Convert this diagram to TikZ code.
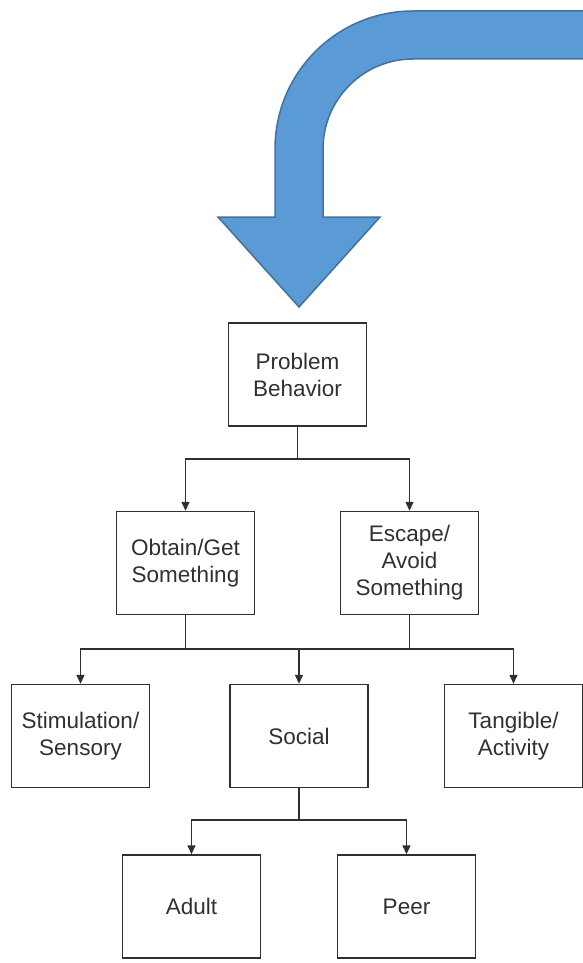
\documentclass[tikz,border=0pt]{standalone}
\usepackage{fontspec}
\setmainfont{Liberation Sans}
\usetikzlibrary{arrows.meta}
\definecolor{arrowfill}{HTML}{5B9BD5}
\definecolor{arrowline}{HTML}{41719C}
\definecolor{ink}{HTML}{303030}
\tikzset{
  box/.style={draw=ink, line width=1.4pt, text=ink, minimum width=138pt, minimum height=103pt,
    align=center, inner sep=0pt, font=\fontsize{22.5}{27}\selectfont},
  conn/.style={draw=ink, line width=1.4pt, -{Triangle[width=8pt,length=9pt]}},
  plain/.style={draw=ink, line width=1.4pt},
}
\begin{document}
\begin{tikzpicture}[x=1pt,y=-1pt]
\useasboundingbox (0,0) rectangle (583,963);
\clip (0,0) rectangle (583,963);
% big curved arrow
\fill[arrowfill, draw=arrowline, line width=1.5pt]
  (590,11) -- (413,11) arc[start angle=90, end angle=180, radius=138pt]
  -- (275,217) -- (218,217) -- (299,307) -- (380,217) -- (323,217) -- (323,149)
  arc[start angle=180, end angle=90, radius=90pt] -- (590,59) -- cycle;
% boxes
\node[box] (pb)   at (297.5,374.5) {Problem\\Behavior};
\node[box] (obt)  at (185.5,563) {Obtain/Get\\Something};
\node[box] (esc)  at (409.5,563) {Escape/\\Avoid\\Something};
\node[box] (stim) at (80.5,736) {Stimulation/\\Sensory};
\node[box] (soc)  at (299,736) {Social};
\node[box] (tang) at (513.5,736) {Tangible/\\Activity};
\node[box] (adult) at (191.5,906.5) {Adult};
\node[box] (peer)  at (406.5,906.5) {Peer};
% junctions
\coordinate (j1) at (297.5,459);
\coordinate (j2) at (299,649);
\coordinate (j3) at (299,820);
% connectors
\draw[plain] (pb.south) -- (j1);
\draw[conn] (j1) -| (obt.north);
\draw[conn] (j1) -| (esc.north);
\draw[plain] (obt.south) -- (obt.south |- j2);
\draw[plain] (esc.south) -- (esc.south |- j2);
\draw[plain] (obt.south |- j2) -- (esc.south |- j2);
\draw[conn] (obt.south |- j2) -| (stim.north);
\draw[conn] (esc.south |- j2) -| (tang.north);
\draw[conn] (j2) -- (soc.north);
\draw[plain] (soc.south) -- (j3);
\draw[conn] (j3) -| (adult.north);
\draw[conn] (j3) -| (peer.north);
\end{tikzpicture}
\end{document}
